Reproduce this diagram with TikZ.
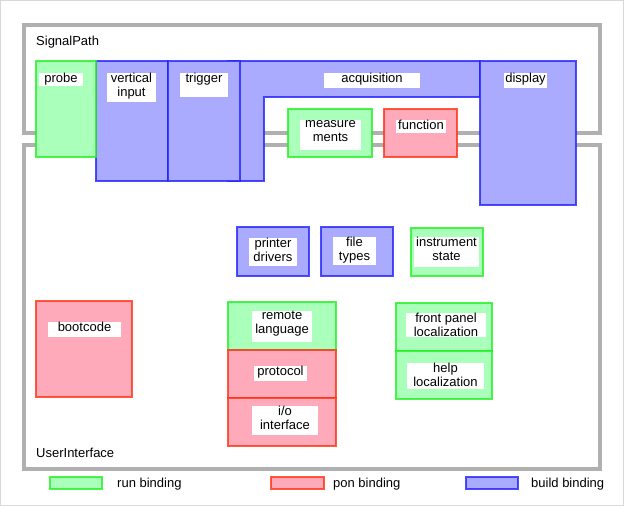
\documentclass[tikz,border=0pt]{standalone}
\usepackage{fontspec}
\setmainfont{Liberation Sans}
\definecolor{framegray}{HTML}{B0B0B0}
\definecolor{edgegray}{HTML}{D8D8D8}
\definecolor{runfill}{HTML}{AAFFBB}
\definecolor{ponfill}{HTML}{FFAABB}
\definecolor{buildfill}{HTML}{AAAAFF}
\definecolor{runline}{HTML}{22F022}
\definecolor{ponline}{HTML}{FF3311}
\definecolor{buildline}{HTML}{2222FF}
\newcommand\lab[6]{%
  \fill[white] (#2,#3) rectangle (#4,#5);
  \node[txt] (#1) at ({(#2+#4)/2},{#3+0.3}) {#6};}
\begin{document}
\begin{tikzpicture}[x=1pt,y=-1pt,
  frame/.style={draw=framegray,line width=4pt},
  box/.style={draw opacity=0.8,line width=1.2pt,inner sep=0pt,outer sep=0pt,anchor=north west},
  runb/.style={box,fill=runfill,draw=runline},
  ponb/.style={box,fill=ponfill,draw=ponline},
  buildb/.style={box,fill=buildfill,draw=buildline},
  txt/.style={anchor=north,align=center,inner sep=0pt,font=\fontsize{13}{14}\selectfont},
  plain/.style={inner sep=0pt,font=\fontsize{13}{14}\selectfont}]
\useasboundingbox (0,0) rectangle (624,506);
\draw[edgegray,line width=1pt] (0.5,0.5) rectangle (623.5,505.5);
% frames
\draw[frame] (24,25) rectangle (600,133);
\draw[frame] (24,145) rectangle (600,469);
\node[plain,anchor=base west] (sp) at (36,45.5) {SignalPath};
\node[plain,anchor=base west] (ui) at (36,457.5) {UserInterface};
% signal path blocks
\draw[fill=buildfill,draw=buildline,draw opacity=0.8,line width=1.2pt]
  (228,61) -- (480,61) -- (480,97) -- (264,97) -- (264,181) -- (228,181) -- cycle;
\node[buildb,minimum width=72pt,minimum height=120pt] (vinput) at (96,61) {};
\node[buildb,minimum width=72pt,minimum height=120pt] (trigger) at (168,61) {};
\node[runb,minimum width=60pt,minimum height=96pt] (probe) at (36,61) {};
\node[buildb,minimum width=96pt,minimum height=144pt] (display) at (480,61) {};
\node[runb,minimum width=84pt,minimum height=48pt] (meas) at (288,109) {};
\node[ponb,minimum width=73pt,minimum height=48pt] (func) at (384,109) {};
% user interface blocks
\node[buildb,minimum width=72pt,minimum height=49pt] (printer) at (237,227) {};
\node[buildb,minimum width=72pt,minimum height=49pt] (filetypes) at (321,227) {};
\node[runb,minimum width=72pt,minimum height=48pt] (instr) at (411,228) {};
\node[ponb,minimum width=96pt,minimum height=96pt] (boot) at (36,301) {};
\node[runb,minimum width=108pt,minimum height=48pt] (remote) at (228,302) {};
\node[ponb,minimum width=108pt,minimum height=48pt] (protocol) at (228,350) {};
\node[ponb,minimum width=108pt,minimum height=48pt] (io) at (228,398) {};
\node[runb,minimum width=96pt,minimum height=48pt] (front) at (396,303) {};
\node[runb,minimum width=96pt,minimum height=48pt] (help) at (396,351) {};
% labels
\lab{probeL}{39}{73}{83}{86}{probe}
\lab{vinputL}{107}{73}{156}{102}{vertical\\input}
\lab{triggerL}{180}{73}{228}{97}{trigger}
\lab{acqL}{324}{73}{420}{88}{acquisition}
\lab{displayL}{504}{73}{547}{88}{display}
\lab{measL}{300}{120}{361}{150}{measure\\ments}
\lab{funcL}{396}{120}{446}{133}{function}
\lab{printerL}{249}{238}{297}{266}{printer\\drivers}
\lab{fileL}{333}{237}{376}{265}{file\\types}
\lab{instrL}{414}{237}{479}{267}{instrument\\state}
\lab{bootL}{48}{322}{121}{337}{bootcode}
\lab{remoteL}{252}{311}{312}{342}{remote\\language}
\lab{protoL}{254}{366}{307}{381}{protocol}
\lab{ioL}{252}{406}{318}{435}{i/o\\interface}
\lab{frontL}{406}{313}{486}{337}{front panel\\localization}
\lab{helpL}{407}{363}{484}{389}{help\\localization}
% legend
\node[runb,minimum width=52pt,minimum height=12pt] (runkey) at (50,477) {};
\node[ponb,minimum width=53pt,minimum height=12pt] (ponkey) at (271,477) {};
\node[buildb,minimum width=52pt,minimum height=12pt] (buildkey) at (466,477) {};
\node[plain,anchor=base west] (runtxt) at (117,487.5) {run binding};
\node[plain,anchor=base west] (pontxt) at (333,487.5) {pon binding};
\node[plain,anchor=base west] (buildtxt) at (531,487.5) {build binding};
\end{tikzpicture}
\end{document}
